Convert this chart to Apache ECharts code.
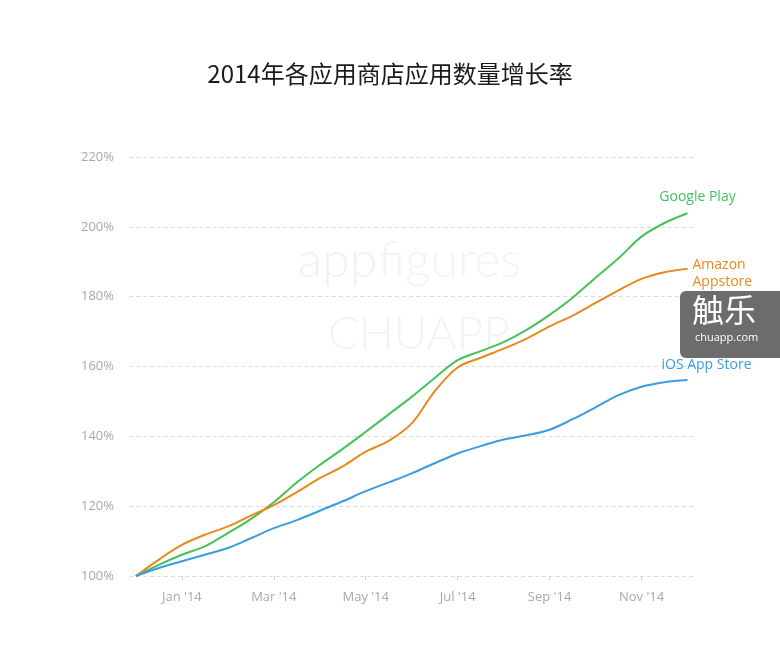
<!DOCTYPE html>
<html>
<head>
<meta charset="utf-8">
<title>2014年各应用商店应用数量增长率</title>
<script src="https://cdn.jsdelivr.net/npm/echarts@6/dist/echarts.min.js"></script>
<style>
  html, body { margin: 0; padding: 0; background: #fff; }
  #chart { width: 780px; height: 650px; }
</style>
</head>
<body>
<div id="chart"></div>
<script>
// month index: 0 = Jan '14, half-month steps from Dec '13 to Dec '14
const months = [-1, -0.5, 0, 0.5, 1, 1.5, 2, 2.5, 3, 3.5, 4, 4.5, 5, 5.5, 6, 6.5, 7, 7.5, 8, 8.5, 9, 9.5, 10, 10.5, 11];

const googlePlay = [100, 103.2, 106.1, 108.5, 112.3, 116.3, 121.1, 126.8, 131.8, 136.4, 141.3, 146.3, 151.3, 156.7, 161.8, 164.4, 167, 170.5, 174.8, 179.7, 185.4, 191, 197.2, 201.1, 203.9];
const amazon = [100, 104.7, 108.9, 111.8, 114.2, 117.3, 120.3, 124, 128, 131.4, 135.6, 138.7, 143.7, 152.9, 159.7, 162.5, 165.1, 168, 171.5, 174.6, 178.2, 181.8, 185.1, 187, 188];
const iosStore = [100, 102.3, 104.2, 106.1, 108, 110.8, 113.7, 116, 118.7, 121.4, 124.3, 126.8, 129.4, 132.3, 135.1, 137.2, 139.1, 140.3, 141.9, 144.9, 148.3, 151.8, 154.2, 155.5, 156.1];

const tickMonths = [0, 2, 4, 6, 8, 10];
const tickLabels = ["Jan '14", "Mar '14", "May '14", "Jul '14", "Sep '14", "Nov '14"];

const green = '#45c15c';
const orange = '#e8891e';
const blue = '#3a9de2';
const labelFont = '"Open Sans", Lato, sans-serif';

const pairs = (vals) => months.map((m, i) => [m, vals[i]]);

const makeSeries = (name, vals, color, endLabel) => ({
  name,
  type: 'line',
  data: pairs(vals),
  smooth: 0.35,
  showSymbol: false,
  lineStyle: { color, width: 2 },
  itemStyle: { color },
  z: 3,
  endLabel: Object.assign({
    show: true,
    formatter: endLabel.text,
    color,
    fontFamily: labelFont,
    fontSize: 14,
    lineHeight: 17
  }, endLabel.style)
});

const chart = echarts.init(document.getElementById('chart'));

chart.setOption({
  animation: false,
  title: {
    text: '2014年各应用商店应用数量增长率',
    left: 'center',
    top: 57,
    textStyle: {
      fontFamily: '"Noto Sans CJK SC", sans-serif',
      fontWeight: 'normal',
      fontSize: 24,
      color: '#1a1a1a'
    }
  },
  grid: { left: 129, right: 87, top: 157, bottom: 74 },
  xAxis: {
    type: 'value',
    min: -1.15,
    max: 11.12,
    axisLine: { show: false },
    splitLine: { show: false },
    axisTick: {
      show: true,
      length: 4,
      customValues: tickMonths,
      lineStyle: { color: '#cfcfcf' }
    },
    axisLabel: {
      customValues: tickMonths,
      margin: 15,
      color: '#a8a8a8',
      fontFamily: labelFont,
      fontSize: 13,
      formatter: (v) => tickLabels[tickMonths.indexOf(v)]
    }
  },
  yAxis: {
    type: 'value',
    min: 100,
    max: 220,
    interval: 20,
    axisLine: { show: false },
    axisTick: { show: false },
    axisLabel: {
      formatter: '{value}%',
      margin: 15,
      color: '#a8a8a8',
      fontFamily: labelFont,
      fontSize: 13
    },
    splitLine: {
      lineStyle: { color: '#dcdcdc', type: [4, 3], width: 1 }
    }
  },
  graphic: [
    {
      type: 'text', z: 0, left: 298, top: 236,
      style: { text: 'app', font: '300 50px Lato, sans-serif', fill: '#f1f1f1' }
    },
    {
      type: 'text', z: 0, left: 378, top: 236,
      style: { text: 'figures', font: '300 50px Lato, sans-serif', fill: '#f4f4f4' }
    },
    {
      type: 'text', z: 0, left: 328, top: 311,
      style: { text: 'CHUAPP', font: '300 46px Lato, sans-serif', fill: '#f3f3f3' }
    },
    {
      type: 'rect', z: 10,
      shape: { x: 680, y: 291, width: 110, height: 67, r: 6 },
      style: { fill: 'rgba(95,95,95,0.92)' }
    },
    {
      type: 'text', z: 11, left: 692, top: 294,
      style: { text: '触乐', font: '32px "Noto Sans CJK SC", sans-serif', fill: '#ffffff' }
    },
    {
      type: 'text', z: 11, left: 695, top: 332,
      style: { text: 'chuapp.com', font: '11px "Open Sans", sans-serif', fill: '#ffffff' }
    }
  ],
  series: [
    makeSeries('Google Play', googlePlay, green, {
      text: 'Google Play', style: { align: 'center', offset: [2, -16] }
    }),
    makeSeries('Amazon Appstore', amazon, orange, {
      text: 'Amazon\nAppstore', style: { align: 'left', offset: [-3, 5] }
    }),
    makeSeries('iOS App Store', iosStore, blue, {
      text: 'iOS App Store', style: { align: 'center', offset: [11, -15] }
    })
  ]
});
</script>
</body>
</html>
